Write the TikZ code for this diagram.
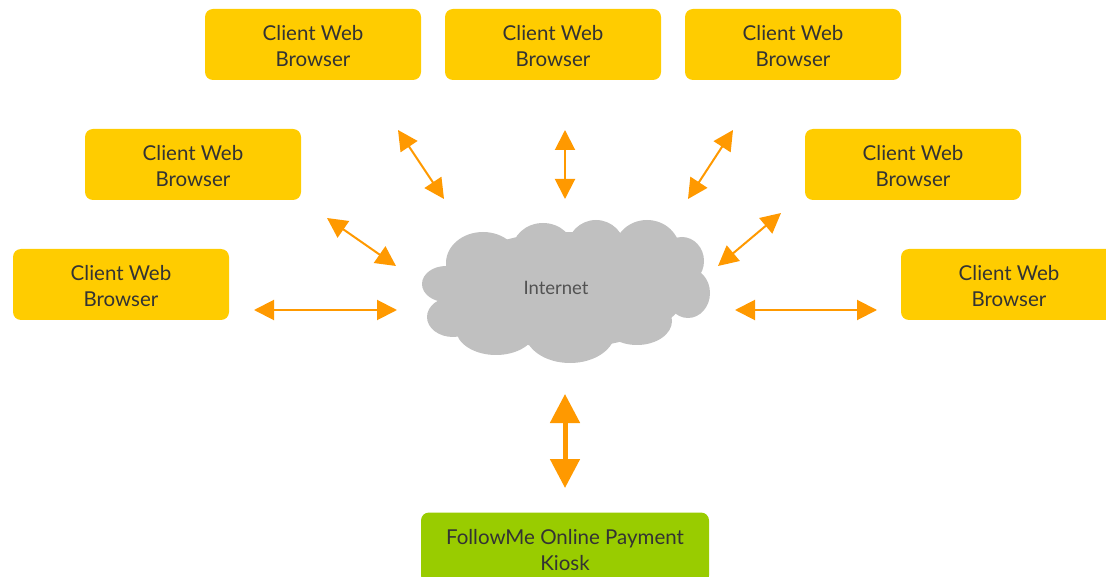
\documentclass[tikz,border=0pt]{standalone}
\usepackage{fontspec}
\setmainfont{Lato}
\usepackage{tikz}
\usetikzlibrary{arrows.meta}

\definecolor{boxyellow}{HTML}{FFCC00}
\definecolor{kioskgreen}{HTML}{99CC00}
\definecolor{arroworange}{HTML}{FF9900}
\definecolor{cloudgray}{HTML}{C0C0C0}
\definecolor{textgray}{HTML}{333333}

\begin{document}
\begin{tikzpicture}[x=1pt,y=-1pt,
    clientbox/.style={rectangle, rounded corners=8pt, fill=boxyellow, minimum width=216pt, minimum height=71pt, align=center, text=textgray, font=\fontsize{20.5}{26}\selectfont, text height=45pt, text depth=0pt},
    kioskbox/.style={clientbox, fill=kioskgreen, minimum width=288pt},
    link/.style={arroworange, line width=2pt, {Triangle[length=20pt,width=20pt]}-{Triangle[length=20pt,width=20pt]}},
    biglink/.style={arroworange, line width=5pt, {Triangle[length=29pt,width=29pt]}-{Triangle[length=29pt,width=29pt]}}]
    %RAMKA
    \useasboundingbox (0,0) rectangle (1106,577);
    \clip (0,0) rectangle (1106,577);
    %AWAN
    \begin{scope}[fill=cloudgray]
        \fill (566,290) ellipse [x radius=120, y radius=58];
        \fill (446,284) ellipse [x radius=24, y radius=18];
        \fill (483,263) ellipse [x radius=37, y radius=31];
        \fill (543,251) ellipse [x radius=31, y radius=28];
        \fill (596,249) ellipse [x radius=29, y radius=29];
        \fill (647,251) ellipse [x radius=33, y radius=31];
        \fill (682,261) ellipse [x radius=22, y radius=24];
        \fill (688,293) ellipse [x radius=22, y radius=25];
        \fill (637,321) ellipse [x radius=35, y radius=24];
        \fill (570,332) ellipse [x radius=45, y radius=31];
        \fill (496,329) ellipse [x radius=40, y radius=26];
        \fill (453,317) ellipse [x radius=26, y radius=20];
    \end{scope}
    \node[text=textgray!85, font=\fontsize{18.5}{22}\selectfont] (internet) at (556,288) {Internet};
    %KOTAK
    \node[clientbox] (c1) at (313,44.5) {Client Web\\Browser};
    \node[clientbox] (c2) at (553,44.5) {Client Web\\Browser};
    \node[clientbox] (c3) at (793,44.5) {Client Web\\Browser};
    \node[clientbox] (c4) at (193,164.5) {Client Web\\Browser};
    \node[clientbox] (c5) at (913,164.5) {Client Web\\Browser};
    \node[clientbox] (c6) at (121,284.5) {Client Web\\Browser};
    \node[clientbox] (c7) at (1009,284.5) {Client Web\\Browser};
    \node[kioskbox] (kiosk) at (565,548) {FollowMe Online Payment\\Kiosk};
    %KOORDINAT
    \coordinate (a1) at (398,130); \coordinate (b1) at (444,199);
    \coordinate (a2) at (565,130); \coordinate (b2) at (565,199);
    \coordinate (a3) at (733,130); \coordinate (b3) at (688,199);
    \coordinate (a4) at (327,218); \coordinate (b4) at (396,266);
    \coordinate (a5) at (781,213); \coordinate (b5) at (718,266);
    \coordinate (a6) at (254,310); \coordinate (b6) at (397,310);
    \coordinate (a7) at (877,310); \coordinate (b7) at (735,310);
    \coordinate (a8) at (565,394); \coordinate (b8) at (565,488);
    %PANAH
    \foreach \i in {1,...,7}
        \draw[link] (a\i) -- (b\i);
    \draw[biglink] (a8) -- (b8);
\end{tikzpicture}
\end{document}
